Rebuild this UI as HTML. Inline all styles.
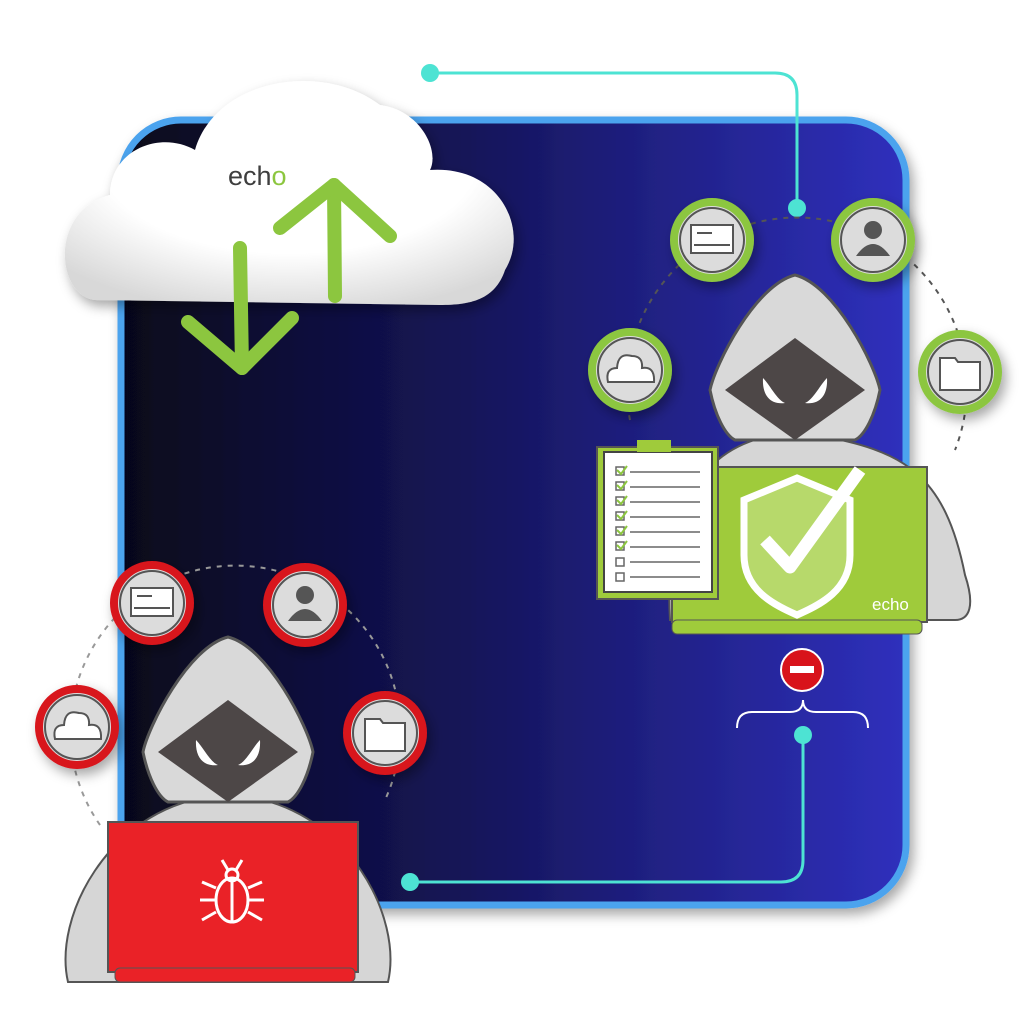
<!DOCTYPE html>
<html><head><style>html,body{margin:0;padding:0;background:#fff;width:1024px;height:1024px;overflow:hidden}</style></head>
<body>
<svg width="1024" height="1024" viewBox="0 0 1024 1024" xmlns="http://www.w3.org/2000/svg" font-family="Liberation Sans, sans-serif">
<defs>
<linearGradient id="bg" x1="0" y1="0" x2="1" y2="0">
<stop offset="0" stop-color="#06061a"/><stop offset="0.45" stop-color="#15155a"/><stop offset="1" stop-color="#2f30bd"/>
</linearGradient>
<radialGradient id="cl" cx="0.5" cy="0.35" r="0.7">
<stop offset="0.6" stop-color="#ffffff"/><stop offset="1" stop-color="#d8d8d8"/>
</radialGradient>
<filter id="sh" x="-20%" y="-20%" width="140%" height="140%"><feDropShadow dx="4" dy="6" stdDeviation="6" flood-color="#000" flood-opacity="0.35"/></filter>
<g id="hood">
<path d="M0,0 C40,10 80,90 85,115 C80,140 70,160 60,165 L-60,165 C-70,160 -80,140 -85,115 C-80,90 -40,10 0,0 Z" fill="#d9d9d9" stroke="#555" stroke-width="3"/>
<path d="M0,63 L70,115 L0,165 L-70,115 Z" fill="#4d4747"/>
<path d="M-32,103 C-25,110 -18,125 -10,128 C-25,130 -33,120 -32,103 Z" fill="#fff"/>
<path d="M32,103 C25,110 18,125 10,128 C25,130 33,120 32,103 Z" fill="#fff"/>
</g>
</defs>

<rect x="121" y="120" width="785" height="785" rx="60" fill="url(#bg)" stroke="#4ba3ee" stroke-width="7" filter="url(#sh)"/>

<path d="M430,73 L775,73 Q797,73 797,95 L797,208" fill="none" stroke="#4de3d3" stroke-width="3"/>
<circle cx="430" cy="73" r="9" fill="#4de3d3"/>
<circle cx="797" cy="208" r="9" fill="#4de3d3"/>
<path d="M803,735 L803,860 Q803,882 781,882 L410,882" fill="none" stroke="#4de3d3" stroke-width="3"/>
<circle cx="803" cy="735" r="9" fill="#4de3d3"/>
<circle cx="410" cy="882" r="9" fill="#4de3d3"/>
<path d="M737,728 Q737,712 752,712 L790,712 Q803,712 803,700 Q803,712 816,712 L853,712 Q868,712 868,728" fill="none" stroke="#fff" stroke-width="2"/>
<circle cx="802" cy="670" r="21" fill="#d8131b" stroke="#fff" stroke-width="2"/>
<rect x="790" y="666" width="24" height="7" fill="#fff"/>

<g filter="url(#sh)">
<path d="M95,300 C55,295 50,210 110,195 C110,150 160,130 195,150 C215,80 320,60 380,105 C420,110 440,150 430,170 C500,165 530,230 505,270 C495,300 470,305 440,305 Z" fill="url(#cl)"/>
</g>
<text x="228" y="185" font-size="27" fill="#3e3e3e">ech<tspan fill="#8cc63f">o</tspan></text>
<g fill="none" stroke="#8cc63f" stroke-width="14" stroke-linecap="round" stroke-linejoin="round">
<path d="M240,248 L242,368"/><path d="M188,322 L242,368 L292,318"/>
<path d="M335,296 L334,185"/><path d="M280,228 L334,185 L390,236"/>
</g>

<!-- right hacker -->
<path d="M630,420 A170,170 0 1 1 955,450" fill="none" stroke="#555" stroke-width="2" stroke-dasharray="5,6"/>
<g transform="translate(795,275)">
<path d="M-125,345 C-130,260 -110,175 -20,160 L20,160 C110,175 150,200 170,300 C180,330 175,345 160,345 Z" fill="#d6d6d6" stroke="#555" stroke-width="2"/>
<use href="#hood"/>
</g>
<rect x="672" y="467" width="255" height="155" fill="#9fcb3b" stroke="#555" stroke-width="2"/>
<rect x="672" y="620" width="250" height="14" rx="5" fill="#9fcb3b" stroke="#555" stroke-width="1"/>
<path d="M797,478 L850,500 L850,555 C850,590 820,605 797,615 C774,605 744,590 744,555 L744,500 Z" fill="#b7d96b" stroke="#fff" stroke-width="7"/>
<path d="M765,540 L790,567 L860,470" fill="none" stroke="#fff" stroke-width="13" stroke-linejoin="round"/>
<text x="872" y="610" font-size="17" fill="#fff">echo</text>
<rect x="597" y="447" width="121" height="152" fill="#9fcb3b" stroke="#555" stroke-width="2"/>
<rect x="604" y="452" width="108" height="140" fill="#fff" stroke="#444" stroke-width="2"/>
<rect x="637" y="440" width="34" height="12" fill="#9fcb3b"/>
<g stroke="#666" stroke-width="1.5">
<line x1="630" y1="472" x2="700" y2="472"/><line x1="630" y1="487" x2="700" y2="487"/><line x1="630" y1="502" x2="700" y2="502"/><line x1="630" y1="517" x2="700" y2="517"/><line x1="630" y1="532" x2="700" y2="532"/><line x1="630" y1="547" x2="700" y2="547"/><line x1="630" y1="562" x2="700" y2="562"/><line x1="630" y1="577" x2="700" y2="577"/>
</g>
<g fill="none" stroke="#666" stroke-width="1.5">
<rect x="616" y="467" width="8" height="8"/><rect x="616" y="482" width="8" height="8"/><rect x="616" y="497" width="8" height="8"/><rect x="616" y="512" width="8" height="8"/><rect x="616" y="527" width="8" height="8"/><rect x="616" y="542" width="8" height="8"/><rect x="616" y="558" width="8" height="8"/><rect x="616" y="573" width="8" height="8"/>
</g>
<g fill="none" stroke="#8cc63f" stroke-width="2"><path d="M617,470 l4,4 l6,-8"/><path d="M617,485 l4,4 l6,-8"/><path d="M617,500 l4,4 l6,-8"/><path d="M617,515 l4,4 l6,-8"/><path d="M617,530 l4,4 l6,-8"/><path d="M617,545 l4,4 l6,-8"/></g>

<g fill="#dcdcdc" stroke-width="8" filter="url(#sh)">
<circle cx="712" cy="240" r="38" stroke="#8cc63f"/>
<circle cx="873" cy="240" r="38" stroke="#8cc63f"/>
<circle cx="630" cy="370" r="38" stroke="#8cc63f"/>
<circle cx="960" cy="372" r="38" stroke="#8cc63f"/>
</g>
<g fill="none" stroke="#555" stroke-width="2">
<circle cx="712" cy="240" r="32"/><circle cx="873" cy="240" r="32"/><circle cx="630" cy="370" r="32"/><circle cx="960" cy="372" r="32"/>
</g>
<rect x="691" y="225" width="42" height="28" fill="#fff" stroke="#555" stroke-width="2"/><line x1="697" y1="233" x2="712" y2="233" stroke="#555" stroke-width="2"/><line x1="694" y1="245" x2="730" y2="245" stroke="#555" stroke-width="2"/>
<circle cx="873" cy="230" r="9" fill="#555"/><path d="M856,256 Q873,232 890,256 Z" fill="#555"/>
<path d="M608,382 Q605,368 617,368 Q618,352 632,356 Q643,356 642,368 Q655,366 654,382 Z" fill="#fff" stroke="#555" stroke-width="2"/>
<path d="M940,358 L955,358 L958,362 L980,362 L980,390 L940,390 Z" fill="#fff" stroke="#555" stroke-width="2"/>

<!-- left hacker -->
<path d="M100,825 A165,165 0 1 1 385,800" fill="none" stroke="#999" stroke-width="2" stroke-dasharray="5,6"/>
<g transform="translate(228,637)">
<path d="M-160,345 C-175,280 -120,175 -20,160 L20,160 C120,175 175,280 160,345 Z" fill="#d6d6d6" stroke="#555" stroke-width="2"/>
<use href="#hood"/>
</g>
<rect x="108" y="822" width="250" height="150" fill="#ea2227" stroke="#555" stroke-width="2"/>
<rect x="115" y="968" width="240" height="14" rx="5" fill="#ea2227" stroke="#555" stroke-width="1"/>
<g fill="none" stroke="#fff" stroke-width="3">
<ellipse cx="232" cy="900" rx="16" ry="22"/><line x1="232" y1="880" x2="232" y2="921"/><circle cx="232" cy="875" r="6"/>
<path d="M216,888 l-14,-6 M216,900 l-16,0 M216,912 l-14,8 M248,888 l14,-6 M248,900 l16,0 M248,912 l14,8 M228,870 l-6,-10 M236,870 l6,-10"/>
</g>
<g fill="#dcdcdc" stroke-width="8" filter="url(#sh)">
<circle cx="152" cy="603" r="38" stroke="#d8131b"/>
<circle cx="305" cy="605" r="38" stroke="#d8131b"/>
<circle cx="77" cy="727" r="38" stroke="#d8131b"/>
<circle cx="385" cy="733" r="38" stroke="#d8131b"/>
</g>
<g fill="none" stroke="#555" stroke-width="2">
<circle cx="152" cy="603" r="32"/><circle cx="305" cy="605" r="32"/><circle cx="77" cy="727" r="32"/><circle cx="385" cy="733" r="32"/>
</g>
<rect x="131" y="588" width="42" height="28" fill="#fff" stroke="#555" stroke-width="2"/><line x1="137" y1="596" x2="152" y2="596" stroke="#555" stroke-width="2"/><line x1="134" y1="608" x2="170" y2="608" stroke="#555" stroke-width="2"/>
<circle cx="305" cy="595" r="9" fill="#555"/><path d="M288,621 Q305,597 322,621 Z" fill="#555"/>
<path d="M55,739 Q52,725 64,725 Q65,709 79,713 Q90,713 89,725 Q102,723 101,739 Z" fill="#fff" stroke="#555" stroke-width="2"/>
<path d="M365,719 L380,719 L383,723 L405,723 L405,751 L365,751 Z" fill="#fff" stroke="#555" stroke-width="2"/>
</svg>
</body></html>
